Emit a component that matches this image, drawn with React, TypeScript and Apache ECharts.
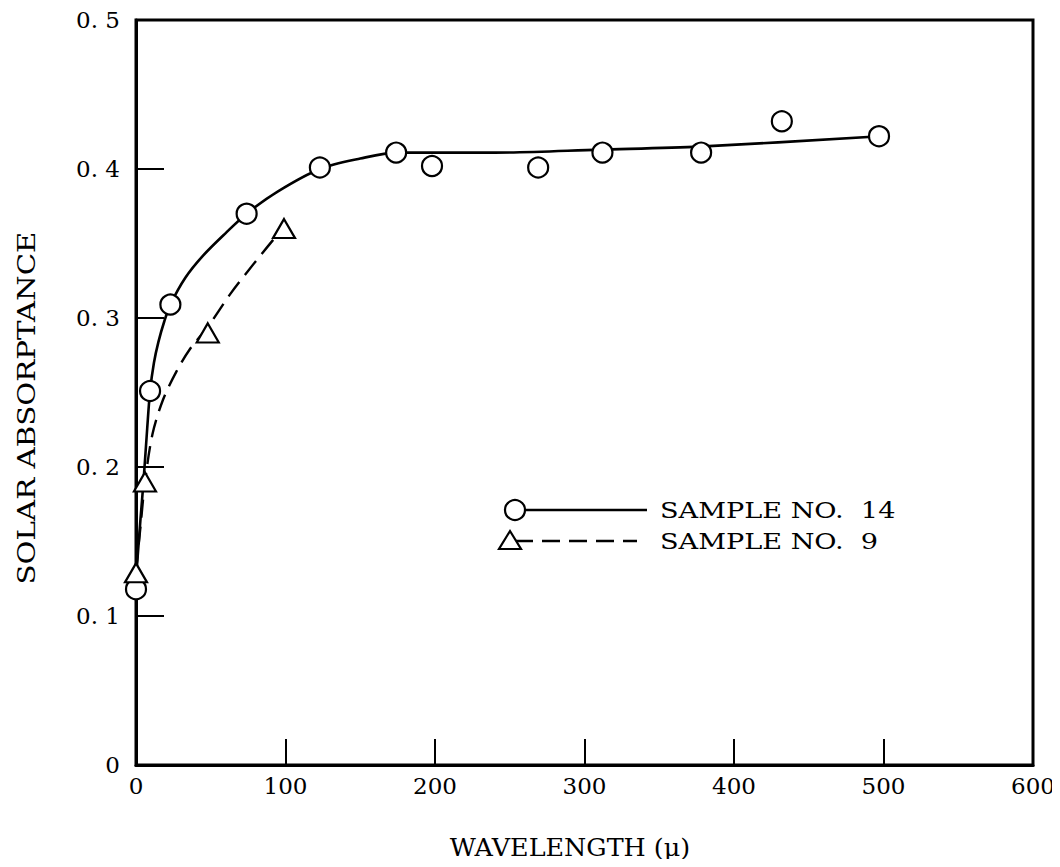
import React, { useEffect, useRef } from "react";
import * as echarts from "echarts";

// Measured points: [wavelength (μ), solar absorptance]
const sample14Points: [number, number][] = [
  [0, 0.118], [9.4, 0.251], [23, 0.309], [74, 0.37], [123, 0.401], [174, 0.411],
  [198, 0.402], [269, 0.401], [312, 0.411], [378, 0.411], [432, 0.432], [497, 0.422],
];
const sample9Points: [number, number][] = [
  [0, 0.129], [6, 0.19], [48, 0.29], [99, 0.36],
];

// Faired curves through each sample's data
const sample14Curve: [number, number][] = [
  [0, 0.125], [3, 0.165], [5, 0.19], [7.5, 0.226], [9.4, 0.251], [12, 0.27],
  [15, 0.284], [19, 0.298], [23, 0.309], [33, 0.327], [45, 0.342], [60, 0.357],
  [74, 0.37], [95, 0.385], [123, 0.4], [150, 0.407], [174, 0.411], [240, 0.411],
  [310, 0.413], [377, 0.415], [498, 0.422],
];
const sample9Curve: [number, number][] = [
  [0, 0.13], [3, 0.16], [6, 0.19], [11, 0.222], [18, 0.245], [27, 0.264],
  [36, 0.279], [48, 0.294], [63, 0.316], [80, 0.338], [98, 0.36],
];

const xTicks = { min: 0, max: 600, interval: 100 };
const yTicks = { min: 0, max: 0.5, interval: 0.1 };

const xTitle = "WAVELENGTH (μ)";
const yTitle = "SOLAR ABSORPTANCE";
const legendLabels = ["SAMPLE NO.  14", "SAMPLE NO.  9"];

const FONT = "DejaVu Serif";

export default function App() {
  const ref = useRef<HTMLDivElement>(null);

  useEffect(() => {
    if (!ref.current) return;
    const chart = echarts.init(ref.current, undefined, { renderer: "svg" });

    const axisText = { color: "#000", fontFamily: FONT, fontSize: 23 };
    const markerStyle = { color: "#fff", borderColor: "#000", borderWidth: 2.2, opacity: 1 };

    chart.setOption({
      animation: false,
      backgroundColor: "#fff",
      grid: {
        left: 136,
        right: 27,
        top: 20,
        bottom: 102,
        show: true,
        borderColor: "#000",
        borderWidth: 3,
      },
      xAxis: {
        type: "value",
        ...xTicks,
        axisLine: { show: true, lineStyle: { color: "#000", width: 3 } },
        axisTick: { show: true, inside: true, length: 26, lineStyle: { color: "#000", width: 2 } },
        axisLabel: { ...axisText, margin: 9 },
        splitLine: { show: false },
      },
      yAxis: {
        type: "value",
        ...yTicks,
        axisLine: { show: true, lineStyle: { color: "#000", width: 3 } },
        axisTick: { show: true, inside: true, length: 28, lineStyle: { color: "#000", width: 2 } },
        axisLabel: {
          ...axisText,
          margin: 16,
          formatter: (v: number) => (v === 0 ? "0" : v.toFixed(1).replace(".", ". ")),
        },
        splitLine: { show: false },
      },
      series: [
        {
          name: "SAMPLE NO. 14 curve",
          type: "line",
          data: sample14Curve,
          smooth: 0.3,
          showSymbol: false,
          lineStyle: { color: "#000", width: 2.6 },
          z: 2,
        },
        {
          name: "SAMPLE NO. 9 curve",
          type: "line",
          data: sample9Curve,
          smooth: 0.3,
          showSymbol: false,
          lineStyle: { color: "#000", width: 2.4, type: [18, 9] },
          z: 2,
        },
        {
          name: "SAMPLE NO. 14",
          type: "scatter",
          data: sample14Points,
          symbol: "circle",
          symbolSize: 20,
          itemStyle: markerStyle,
          z: 3,
        },
        {
          name: "SAMPLE NO. 9",
          type: "scatter",
          data: sample9Points,
          symbol: "triangle",
          symbolSize: [22, 19],
          itemStyle: markerStyle,
          z: 3,
        },
      ],
      graphic: [
        // axis titles, set in a widely spaced face
        {
          type: "text",
          x: 570,
          y: 848,
          scaleX: 1.06,
          style: { text: xTitle, fill: "#000", font: `24px "${FONT}"`, textAlign: "center", textVerticalAlign: "middle" },
        },
        {
          type: "text",
          x: 26,
          y: 408,
          rotation: Math.PI / 2,
          scaleX: 1.22,
          style: { text: yTitle, fill: "#000", font: `24px "${FONT}"`, textAlign: "center", textVerticalAlign: "middle" },
        },
        // key: solid line with open circle
        {
          type: "line",
          shape: { x1: 515, y1: 510, x2: 647, y2: 510 },
          style: { stroke: "#000", lineWidth: 2.6 },
        },
        {
          type: "circle",
          shape: { cx: 515, cy: 510, r: 10 },
          style: { fill: "#fff", stroke: "#000", lineWidth: 2.2 },
        },
        {
          type: "text",
          x: 660,
          y: 510,
          scaleX: 1.18,
          style: { text: legendLabels[0], fill: "#000", font: `23px "${FONT}"`, textVerticalAlign: "middle" },
        },
        // key: dashed line with open triangle
        {
          type: "line",
          shape: { x1: 515, y1: 541, x2: 637, y2: 541 },
          style: { stroke: "#000", lineWidth: 2.4, lineDash: [18, 9] },
        },
        {
          type: "polygon",
          shape: { points: [[510, 531], [521, 549], [499, 549]] },
          style: { fill: "#fff", stroke: "#000", lineWidth: 2.2 },
        },
        {
          type: "text",
          x: 660,
          y: 541,
          scaleX: 1.18,
          style: { text: legendLabels[1], fill: "#000", font: `23px "${FONT}"`, textVerticalAlign: "middle" },
        },
      ],
    });

    return () => chart.dispose();
  }, []);

  return <div ref={ref} style={{ width: 1060, height: 867, margin: -8 }} />;
}
